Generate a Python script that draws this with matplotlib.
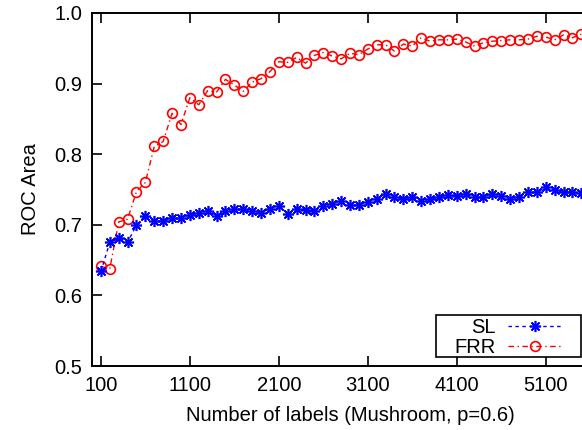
import matplotlib
matplotlib.use("Agg")
import matplotlib.pyplot as plt
from matplotlib.patches import Rectangle

plt.rcParams["font.family"] = ["Liberation Sans", "DejaVu Sans"]

# number of labels (x positions of the points)
labels = list(range(100, 5600, 100))

sl = [0.634, 0.675, 0.681, 0.675, 0.700, 0.713, 0.705, 0.705, 0.710, 0.710,
      0.714, 0.717, 0.720, 0.713, 0.719, 0.722, 0.722, 0.719, 0.717, 0.723,
      0.726, 0.716, 0.723, 0.721, 0.719, 0.727, 0.730, 0.734, 0.728, 0.728,
      0.733, 0.737, 0.744, 0.739, 0.737, 0.739, 0.734, 0.736, 0.740, 0.742,
      0.741, 0.744, 0.739, 0.739, 0.744, 0.741, 0.737, 0.740, 0.747, 0.746,
      0.753, 0.749, 0.746, 0.746, 0.745]

frr = [0.641, 0.638, 0.704, 0.708, 0.747, 0.760, 0.811, 0.818, 0.858, 0.842,
       0.880, 0.870, 0.890, 0.888, 0.906, 0.898, 0.889, 0.902, 0.907, 0.917,
       0.931, 0.930, 0.937, 0.929, 0.940, 0.944, 0.939, 0.935, 0.943, 0.941,
       0.949, 0.955, 0.955, 0.946, 0.956, 0.953, 0.965, 0.960, 0.962, 0.962,
       0.963, 0.959, 0.953, 0.958, 0.960, 0.961, 0.962, 0.962, 0.963, 0.967,
       0.966, 0.962, 0.969, 0.965, 0.970]

xticks = [100, 1100, 2100, 3100, 4100, 5100]
yticks = [0.5, 0.6, 0.7, 0.8, 0.9, 1.0]

fig = plt.figure(figsize=(5.82, 4.30), dpi=100)
# axes run past the right edge of the picture, like the cropped original
ax = fig.add_axes([92 / 582, 64 / 430, 516 / 582, 353 / 430])

ax.plot(labels, sl, color="blue", ls=(0, (2.5, 2.5)), lw=1.0,
        marker=(8, 2, 0), ms=8, mew=1.2, label="SL", zorder=3)
ax.plot(labels, frr, color="red", ls=(0, (4, 2.5, 1, 2.5)), lw=1.0,
        marker="o", ms=7, mfc="none", mew=1.2, label="FRR", zorder=2)

ax.set_xlim(0, 5800)
ax.set_ylim(0.5, 1.0)
ax.set_xticks(xticks)
ax.set_yticks(yticks)
ax.set_yticklabels([f"{v:.1f}" for v in yticks])

for s in ax.spines.values():
    s.set_linewidth(1.4)
ax.spines["right"].set_visible(False)
ax.tick_params(direction="in", length=7, width=1.2, top=True,
               labelsize=14.5, pad=7)

ax.set_xlabel("Number of labels (Mushroom, p=0.6)", fontsize=14.5, labelpad=8)
ax.set_ylabel("ROC Area", fontsize=14.5, labelpad=10)

# gnuplot-like key: text right-aligned, sample line on the right, wide box
leg = ax.legend(loc="upper right", bbox_to_anchor=(563 / 582, 1 - 318 / 430),
                bbox_transform=fig.transFigure, borderaxespad=0,
                markerfirst=False, frameon=False, fontsize=14.5,
                handlelength=2.75, handletextpad=0.6, labelspacing=0.05,
                borderpad=0, numpoints=1)
leg.set_zorder(6)
box = Rectangle((436 / 582, 1 - 357 / 430), 145 / 582, 42 / 430,
                transform=fig.transFigure, facecolor="white",
                edgecolor="black", lw=1.2, zorder=5, clip_on=False)
ax.add_patch(box)

fig.savefig("out.png", dpi=100)
